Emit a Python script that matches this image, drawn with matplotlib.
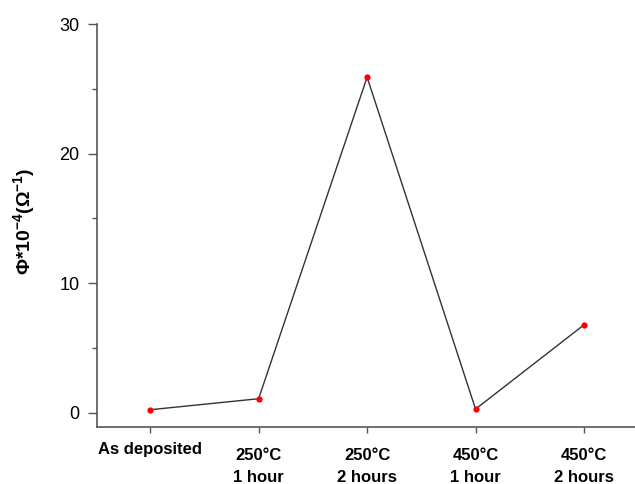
import numpy as np
import matplotlib
matplotlib.use("Agg")
import matplotlib.pyplot as plt
from matplotlib.ticker import MultipleLocator
from matplotlib.transforms import ScaledTranslation

plt.rcParams['font.family'] = ['Liberation Sans', 'DejaVu Sans']
plt.rcParams['mathtext.fontset'] = 'custom'
plt.rcParams['mathtext.rm'] = 'Liberation Sans:bold'
plt.rcParams['mathtext.it'] = 'Liberation Sans:bold'
plt.rcParams['mathtext.bf'] = 'Liberation Sans:bold'

# annealing conditions and conductance values
conditions = ["As deposited", "250°C\n1 hour", "250°C\n2 hours", "450°C\n1 hour", "450°C\n2 hours"]
phi = [0.25, 1.1, 25.9, 0.3, 6.8]

x = np.arange(len(conditions))

fig = plt.figure(figsize=(6.35, 4.84), dpi=100)
ax = fig.add_axes([0.1528, 0.1178, 0.8472, 0.8326])

ax.plot(x, phi, color='#333333', linewidth=1.0, zorder=2)
ax.plot(x, phi, 'o', color='red', markersize=4.5, markeredgewidth=0, zorder=3)

ax.set_xlim(-0.49, 4.47)
ax.set_ylim(-1.08, 30)

ax.spines['top'].set_visible(False)
ax.spines['right'].set_visible(False)
for s in ('left', 'bottom'):
    ax.spines[s].set_color('#555555')
    ax.spines[s].set_linewidth(1.2)

ax.set_xticks(x)
ax.set_xticklabels(conditions, fontsize=12, fontweight='bold', linespacing=1.6)
ax.yaxis.set_major_locator(MultipleLocator(10))
ax.yaxis.set_minor_locator(MultipleLocator(5))
ax.tick_params(axis='x', direction='out', length=4, width=1, color='#555555', pad=7)
ax.tick_params(axis='y', which='major', direction='out', length=6.5, width=1,
               color='#555555', labelsize=13, pad=6)
ax.tick_params(axis='y', which='minor', direction='out', length=3.5, width=1, color='#555555')

# two-line labels sit a little lower than the single-line one
shift = ScaledTranslation(0, -4 / 72, fig.dpi_scale_trans)
for lab in ax.get_xticklabels()[1:]:
    lab.set_transform(lab.get_transform() + shift)

ax.set_ylabel('Φ*10$^{-4}$(Ω$^{-1}$)', fontsize=14, fontweight='bold')
ax.yaxis.set_label_coords(-0.112, 0.51)

fig.savefig('out.png', dpi=100)
